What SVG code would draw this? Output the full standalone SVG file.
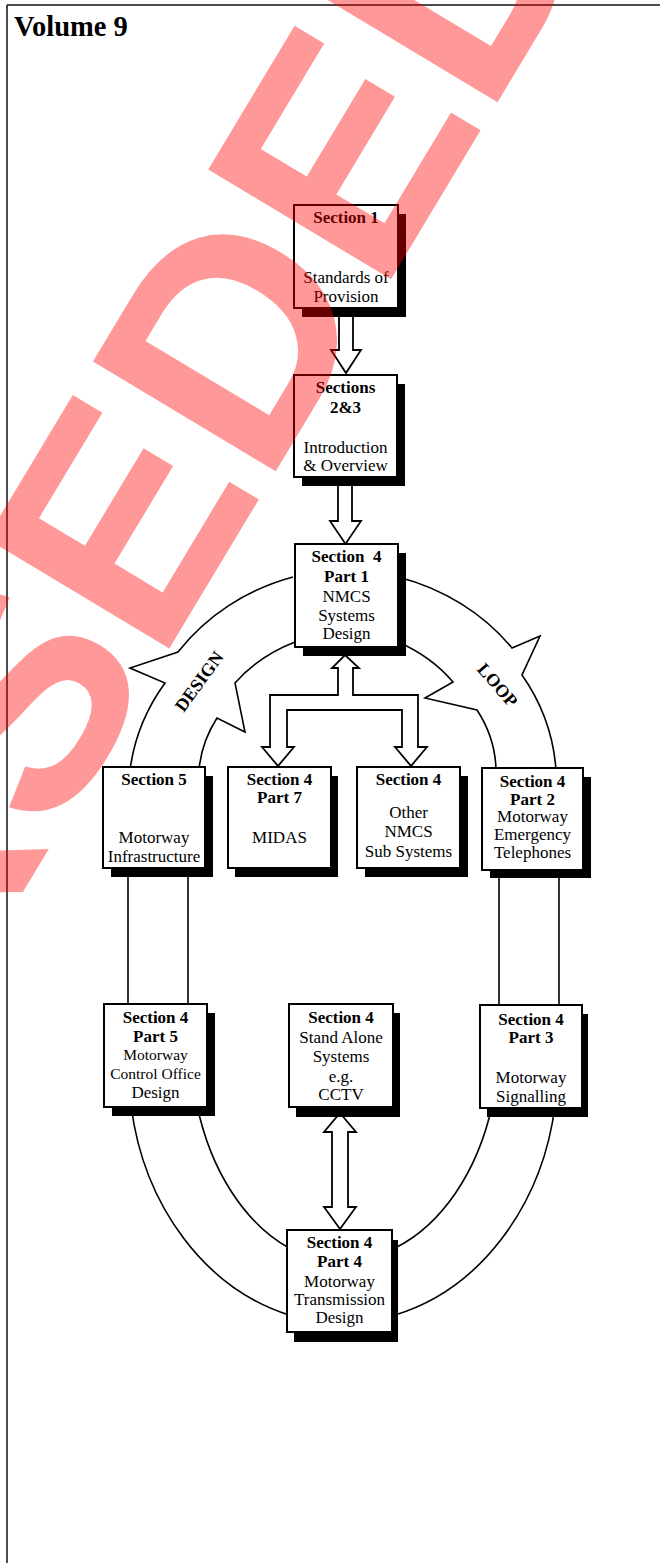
<svg xmlns="http://www.w3.org/2000/svg" width="660" height="1563" viewBox="0 0 660 1563">
<style>
  .frame { stroke:#111; stroke-width:1.5; fill:none; }
  .line { stroke:#000; stroke-width:1.6; fill:none; }
  .arrow { stroke:#000; stroke-width:1.8; fill:#fff; stroke-linejoin:miter; }
  .shadow { fill:#000; }
  .box { fill:#fff; stroke:#000; stroke-width:2; }
  text { font-family:"Liberation Serif","Times New Roman",serif; font-size:17px; fill:#000; text-anchor:middle; }
  .b { font-weight:bold; }
  .title { font-size:28.5px; font-weight:bold; text-anchor:start; }
  .loop { font-size:18px; font-weight:bold; }
  .wm { font-family:"Liberation Sans",Arial,sans-serif; font-weight:bold; font-size:310px; fill:#ff0000; fill-opacity:0.4; text-anchor:start; }
</style>
<rect x="0" y="0" width="660" height="1563" fill="#fff"/>
<path class="frame" d="M7,5 H660 M7,5 V1563"/>
<text class="title" x="14" y="36">Volume 9</text>

<g id="connectors">
  <!-- loop band -->
  <path class="line" d="M293,577 A216,199 0 0 0 178,652 L130,668 L165,683 A216,199 0 0 0 130,770"/>
  <path class="line" d="M295,642 A156,130 0 0 0 235,683 L245,732 L217,718 A156,130 0 0 0 199,770"/>
  <path class="line" d="M398,577 A216,199 0 0 1 512,648 L540,636 L522,675 A216,199 0 0 1 556,770"/>
  <path class="line" d="M398,642 A156,130 0 0 1 453,682 L425,698 L477,710 A156,130 0 0 1 496,770"/>
  <path class="line" d="M128,866 V1006 M188,866 V1006 M499,868 V1007 M559,868 V1007"/>
  <path class="line" d="M131,1105 A216,256 0 0 0 289,1315"/>
  <path class="line" d="M197,1105 A156,220 0 0 0 289,1248"/>
  <path class="line" d="M492,1106 A156,220 0 0 1 395,1248"/>
  <path class="line" d="M555,1106 A216,256 0 0 1 395,1315"/>
  <!-- block arrows -->
  <polygon class="arrow" points="339,306 339,350 331,350 346,373 361,350 353,350 353,306"/>
  <polygon class="arrow" points="338,475 338,521 330,521 345.5,544 361,521 352,521 352,475"/>
  <polygon class="arrow" points="345,655 359,668 353,668 353,695 418,695 418,747 427,747 411,766 395,747 402,747 402,710 287,710 287,747 294,747 278,766 262,747 270,747 270,695 338,695 338,668 332,668"/>
  <polygon class="arrow" points="340,1113 356,1132 348,1132 348,1207 356,1207 340,1229 324,1207 332,1207 332,1132 324,1132"/>
  <text class="loop" transform="translate(204,685) rotate(-54)">DESIGN</text>
  <text class="loop" transform="translate(493,689) rotate(49)">LOOP</text>
</g>

<g id="n1">
  <rect class="shadow" x="302" y="214" width="104" height="103"/>
  <rect class="box" x="294" y="205" width="104" height="103"/>
  <text class="b" x="346" y="223">Section 1</text>
  <text x="346" y="283">Standards of</text>
  <text x="346" y="302">Provision</text>
</g>
<g id="n2">
  <rect class="shadow" x="302" y="384" width="103" height="102"/>
  <rect class="box" x="294" y="375" width="103" height="102"/>
  <text class="b" x="345.5" y="393">Sections</text>
  <text class="b" x="345.5" y="413">2&amp;3</text>
  <text x="345.5" y="453">Introduction</text>
  <text x="345.5" y="471">&amp; Overview</text>
</g>
<g id="n3">
  <rect class="shadow" x="303" y="553" width="103" height="103"/>
  <rect class="box" x="295" y="544" width="103" height="103"/>
  <text class="b" x="346.5" y="562" xml:space="preserve">Section  4</text>
  <text class="b" x="346.5" y="582">Part 1</text>
  <text x="346.5" y="602">NMCS</text>
  <text x="346.5" y="621">Systems</text>
  <text x="346.5" y="639">Design</text>
</g>
<g id="n4">
  <rect class="shadow" x="111" y="776" width="102" height="101"/>
  <rect class="box" x="103" y="767" width="102" height="101"/>
  <text class="b" x="154" y="785">Section 5</text>
  <text x="154" y="843">Motorway</text>
  <text x="154" y="862">Infrastructure</text>
</g>
<g id="n5">
  <rect class="shadow" x="235" y="776" width="103" height="101"/>
  <rect class="box" x="228" y="767" width="103" height="101"/>
  <text class="b" x="279.5" y="785">Section 4</text>
  <text class="b" x="279.5" y="803">Part 7</text>
  <text x="279.5" y="843">MIDAS</text>
</g>
<g id="n6">
  <rect class="shadow" x="365" y="776" width="103" height="101"/>
  <rect class="box" x="357" y="767" width="103" height="101"/>
  <text class="b" x="408.5" y="785">Section 4</text>
  <text x="408.5" y="818">Other</text>
  <text x="408.5" y="837">NMCS</text>
  <text x="408.5" y="857">Sub Systems</text>
</g>
<g id="n7">
  <rect class="shadow" x="490" y="777" width="101" height="101"/>
  <rect class="box" x="482" y="768" width="101" height="102"/>
  <text class="b" x="532.5" y="787">Section 4</text>
  <text class="b" x="532.5" y="805">Part 2</text>
  <text x="532.5" y="822">Motorway</text>
  <text x="532.5" y="840">Emergency</text>
  <text x="532.5" y="858">Telephones</text>
</g>
<g id="n8">
  <rect class="shadow" x="112" y="1013" width="103" height="103"/>
  <rect class="box" x="104" y="1004" width="103" height="103"/>
  <text class="b" x="155.5" y="1023">Section 4</text>
  <text class="b" x="155.5" y="1042">Part 5</text>
  <text x="155.5" y="1060" style="font-size:15.5px">Motorway</text>
  <text x="155.5" y="1079" style="font-size:15.5px">Control Office</text>
  <text x="155.5" y="1098">Design</text>
</g>
<g id="n9">
  <rect class="shadow" x="296" y="1013" width="104" height="104"/>
  <rect class="box" x="289" y="1004" width="104" height="103"/>
  <text class="b" x="341" y="1023">Section 4</text>
  <text x="341" y="1043">Stand Alone</text>
  <text x="341" y="1062">Systems</text>
  <text x="341" y="1082">e.g.</text>
  <text x="341" y="1100">CCTV</text>
</g>
<g id="n10">
  <rect class="shadow" x="487" y="1014" width="101" height="103"/>
  <rect class="box" x="480" y="1005" width="102" height="103"/>
  <text class="b" x="531" y="1025">Section 4</text>
  <text class="b" x="531" y="1043">Part 3</text>
  <text x="531" y="1083">Motorway</text>
  <text x="531" y="1102">Signalling</text>
</g>
<g id="n11">
  <rect class="shadow" x="294" y="1240" width="104" height="102"/>
  <rect class="box" x="287" y="1230" width="105" height="102"/>
  <text class="b" x="339.5" y="1248">Section 4</text>
  <text class="b" x="339.5" y="1267">Part 4</text>
  <text x="339.5" y="1287">Motorway</text>
  <text x="339.5" y="1305">Transmission</text>
  <text x="339.5" y="1323">Design</text>
</g>

<text class="wm" transform="translate(-498,1759) rotate(-59)">SUPERSEDED</text>
</svg>
